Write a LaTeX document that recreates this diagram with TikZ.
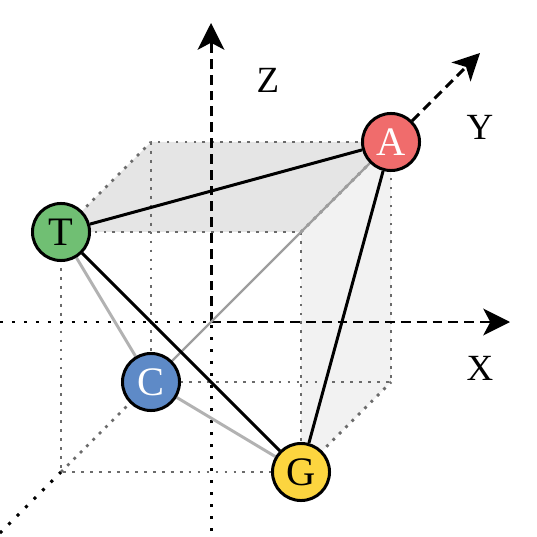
\documentclass[tikz,border=0pt]{standalone}
\usepackage{fontspec}
\setmainfont{Liberation Serif}
\usetikzlibrary{arrows.meta,backgrounds}
\definecolor{atomA}{HTML}{F06C6C}
\definecolor{atomT}{HTML}{70BF73}
\definecolor{atomC}{HTML}{5E8AC7}
\definecolor{atomG}{HTML}{FCD53F}
\begin{document}
\begin{tikzpicture}[x=0.01cm, y=-0.01cm,
  axispos/.style={line width=0.85pt, dash pattern=on 2.8pt off 1.7pt,
    -{Stealth[length=7.6pt,width=7.6pt,inset=2pt]}},
  axisneg/.style={line width=0.85pt, dash pattern=on 0.85pt off 2.55pt},
  cubeedge/.style={draw=black!58, line width=0.8pt, dash pattern=on 0.8pt off 1.75pt},
  base/.style={circle, draw, line width=0.85pt, minimum size=0.57cm, inner sep=0pt,
    font=\fontsize{11.5}{13}\selectfont},
  front/.style={line width=0.85pt},
  back/.style={line width=0.85pt, draw=black!30},
  axislabel/.style={font=\fontsize{10.5}{12}\selectfont, inner sep=0pt}]
  \useasboundingbox (0,0) rectangle (537,537);
  % cube corners: f = front, b = back
  \coordinate (ftl) at (61,232);
  \coordinate (ftr) at (301,232);
  \coordinate (fbl) at (61,472);
  \coordinate (fbr) at (301,472);
  \coordinate (btl) at (151,142);
  \coordinate (btr) at (391,142);
  \coordinate (bbl) at (151,382);
  \coordinate (bbr) at (391,382);
  % axes
  \coordinate (O) at (211,322);
  \coordinate (xneg) at (0,322);
  \coordinate (xtip) at (510,322);
  \coordinate (zneg) at (211,531);
  \coordinate (ztip) at (211,23);
  \coordinate (yneg) at (0,533);
  \coordinate (ytip) at (480,53);
  % bases
  \node[base, fill=atomA, text=white] (A) at (btr) {A};
  \node[base, fill=atomT] (T) at (ftl) {T};
  \node[base, fill=atomC, text=white] (C) at (bbl) {C};
  \node[base, fill=atomG] (G) at (fbr) {G};
  \node[axislabel] (lblZ) at (268,80) {Z};
  \node[axislabel] (lblY) at (480,127) {Y};
  \node[axislabel] (lblX) at (480,368) {X};
  \begin{pgfonlayer}{background}
    \fill[black!10] (ftl) -- (btl) -- (btr) -- (ftr) -- cycle;
    \fill[black!5] (ftr) -- (btr) -- (bbr) -- (fbr) -- cycle;
    \draw[cubeedge] (ftl) rectangle (fbr);
    \draw[cubeedge] (btl) rectangle (bbr);
    \foreach \c in {tl,tr,bl,br}
      \draw[cubeedge] (f\c) -- (b\c);
    \draw[axisneg] (xneg) -- (O);
    \draw[axispos] (O) -- (xtip);
    \draw[axisneg] (zneg) -- (O);
    \draw[axispos] (O) -- (ztip);
    \draw[axisneg] (yneg) -- (fbl);
    \draw[axispos] (A) -- (ytip);
    \draw[back, line width=0.7pt, draw=black!38] (C) -- (A);
    \draw[back] (T) -- (C);
    \draw[back] (C) -- (G);
    \draw[front] (T) -- (A);
    \draw[front] (A) -- (G);
    \draw[front] (T) -- (G);
  \end{pgfonlayer}
\end{tikzpicture}
\end{document}
